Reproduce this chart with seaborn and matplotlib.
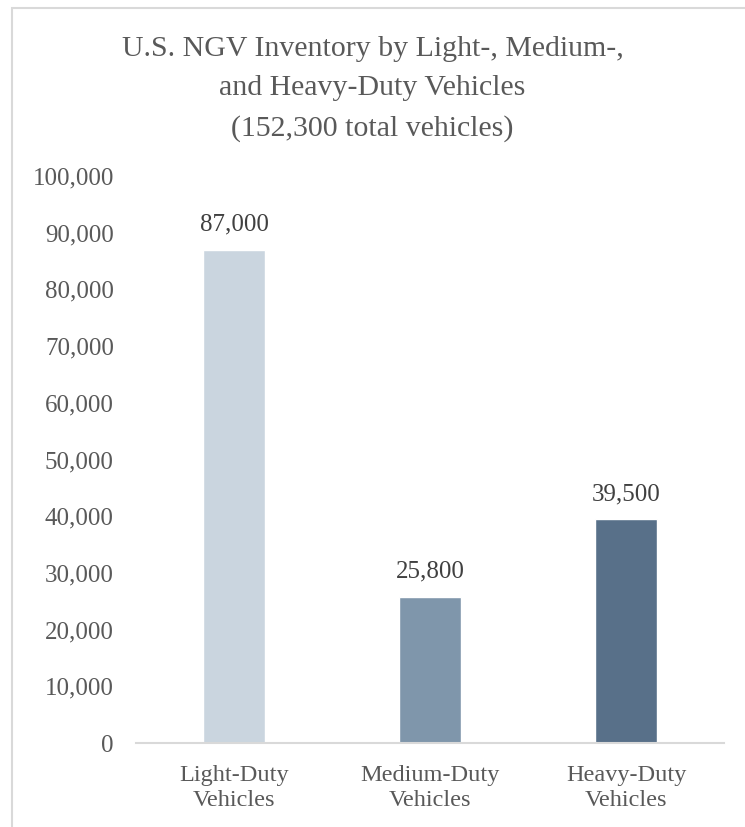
import matplotlib
matplotlib.use('Agg')
import matplotlib.pyplot as plt
import pandas as pd
import seaborn as sns
from matplotlib.patches import Rectangle
from matplotlib.ticker import FuncFormatter

sns.set_theme(style='white')
plt.rcParams['font.family'] = ['Liberation Serif', 'DejaVu Serif']

# データ
categories = ['Light-Duty\nVehicles', 'Medium-Duty\nVehicles', 'Heavy-Duty\nVehicles']
vehicles = [87000, 25800, 39500]
bar_colors = ['#CAD5DF', '#7F96AB', '#587089']
y_ticks = [0, 10000, 20000, 30000, 40000, 50000, 60000, 70000, 80000, 90000, 100000]

df = pd.DataFrame({'category': categories, 'vehicles': vehicles})

fig = plt.figure(figsize=(7.45, 8.27), dpi=100)
ax = fig.add_axes([136/745, 1 - 743/827, 588/745, 567/827])

sns.barplot(data=df, x='category', y='vehicles', hue='category',
            palette=bar_colors, width=0.316, legend=False, ax=ax,
            saturation=1)

ax.set_ylim(0, 100000)
ax.set_xlim(-0.5, 2.5)
ax.set_yticks(y_ticks)
ax.yaxis.set_major_formatter(FuncFormatter(lambda v, p: f'{int(v):,}'))
ax.set_xlabel('')
ax.set_ylabel('')

for s in ['top', 'left', 'right']:
    ax.spines[s].set_visible(False)
ax.spines['bottom'].set_color('#D9D9D9')
ax.spines['bottom'].set_linewidth(1.5)

ax.tick_params(axis='y', length=0, pad=16, labelsize=18, labelcolor='#595959')
ax.tick_params(axis='x', length=0, pad=16, labelsize=17.5, labelcolor='#595959')
for lab in ax.get_xticklabels():
    lab.set_linespacing(1.25)

# 値ラベル
for i, v in enumerate(vehicles):
    ax.annotate(f'{v:,}', (i, v), xytext=(0, 10), textcoords='offset points',
                ha='center', va='bottom', fontsize=18, color='#404040')

fig.text(0.5, 1 - 89/827, 'U.S. NGV Inventory by Light-, Medium-,\nand Heavy-Duty Vehicles\n(152,300 total vehicles)',
         ha='center', va='center', fontsize=21.5, color='#595959', linespacing=1.68)

# 外枠
fig.patches.append(Rectangle((12/745, -0.1), 1.2, 1 - 8/827 + 0.1, transform=fig.transFigure,
                             fill=False, edgecolor='#D9D9D9', linewidth=1.5))

fig.savefig('out.png', dpi=100)
